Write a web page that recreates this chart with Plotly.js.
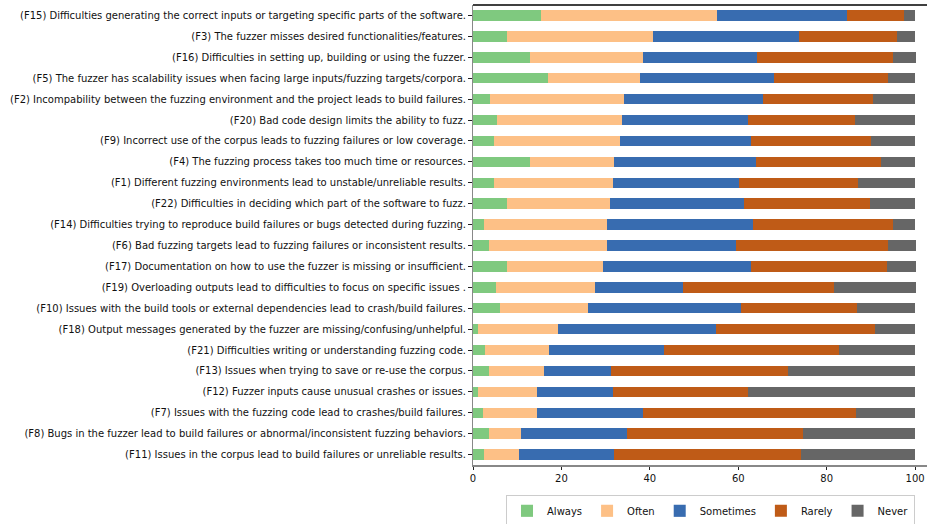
<!DOCTYPE html>
<html>
<head>
<meta charset="utf-8">
<script src="https://cdn.plot.ly/plotly-3.0.1.min.js"></script>
<style>
html,body{margin:0;padding:0;background:#fff;}
#chart{width:927px;height:524px;}
</style>
</head>
<body>
<div id="chart"></div>
<script>
const categories = [
  "(F15) Difficulties generating the correct inputs or targeting specific parts of the software.",
  "(F3) The fuzzer misses desired functionalities/features.",
  "(F16) Difficulties in setting up, building or using the fuzzer.",
  "(F5) The fuzzer has scalability issues when facing large inputs/fuzzing targets/corpora.",
  "(F2) Incompability between the fuzzing environment and the project leads to build failures.",
  "(F20) Bad code design limits the ability to fuzz.",
  "(F9) Incorrect use of the corpus leads to fuzzing failures or low coverage.",
  "(F4) The fuzzing process takes too much time or resources.",
  "(F1) Different fuzzing environments lead to unstable/unreliable results.",
  "(F22) Difficulties in deciding which part of the software to fuzz.",
  "(F14) Difficulties trying to reproduce build failures or bugs detected during fuzzing.",
  "(F6) Bad fuzzing targets lead to fuzzing failures or inconsistent results.",
  "(F17) Documentation on how to use the fuzzer is missing or insufficient.",
  "(F19) Overloading outputs lead to difficulties to focus on specific issues .",
  "(F10) Issues with the build tools or external dependencies lead to crash/build failures.",
  "(F18) Output messages generated by the fuzzer are missing/confusing/unhelpful.",
  "(F21) Difficulties writing or understanding fuzzing code.",
  "(F13) Issues when trying to save or re-use the corpus.",
  "(F12) Fuzzer inputs cause unusual crashes or issues.",
  "(F7) Issues with the fuzzing code lead to crashes/build failures.",
  "(F8) Bugs in the fuzzer lead to build failures or abnormal/inconsistent fuzzing behaviors.",
  "(F11) Issues in the corpus lead to build failures or unreliable results."
];
const seriesNames = ["Always", "Often", "Sometimes", "Rarely", "Never"];
const always    = [15.4, 7.8, 12.8, 17.0, 3.9, 5.5, 4.8, 12.8, 4.8, 7.8, 2.6, 3.7, 7.8, 5.3, 6.0, 1.2, 2.8, 3.7, 1.2, 2.3, 3.7, 2.6];
const often     = [39.7, 33.0, 25.6, 20.8, 30.3, 28.3, 28.5, 19.2, 26.9, 23.1, 27.8, 26.7, 21.7, 22.4, 20.1, 18.1, 14.3, 12.4, 13.3, 12.2, 7.2, 7.7];
const sometimes = [29.4, 33.0, 25.8, 30.2, 31.5, 28.3, 29.6, 32.1, 28.5, 30.5, 33.0, 29.2, 33.3, 19.7, 34.6, 35.7, 26.2, 15.2, 17.2, 24.0, 24.0, 21.7];
const rarely    = [12.9, 22.2, 30.8, 25.9, 24.7, 24.4, 27.2, 28.1, 26.9, 28.3, 31.7, 34.2, 30.8, 34.2, 26.2, 36.0, 39.6, 40.0, 30.5, 48.2, 39.8, 42.3];
const never     = [2.6, 4.0, 5.1, 6.0, 9.6, 13.5, 9.9, 7.8, 12.8, 10.3, 4.9, 6.3, 6.5, 18.5, 13.1, 9.0, 17.1, 28.7, 37.7, 13.3, 25.3, 25.7];
const xTicks = [0, 20, 40, 60, 80, 100];

const colors = ["#7fc97f", "#fdc086", "#386cb0", "#bf5b17", "#666666"];
const values = [always, often, sometimes, rarely, never];

const traces = values.map((v, i) => ({
  type: "bar",
  orientation: "h",
  name: seriesNames[i],
  x: v,
  y: categories,
  width: 0.5,
  marker: {color: colors[i], line: {width: 0}},
  hoverinfo: "x+name"
}));

const layout = {
  width: 927,
  height: 524,
  barmode: "stack",
  paper_bgcolor: "#fff",
  plot_bgcolor: "#fff",
  font: {family: "DejaVu Sans, sans-serif", size: 10, color: "#111"},
  margin: {l: 473, r: 0, t: 5, b: 59, pad: 0, autoexpand: false},
  showlegend: true,
  legend: {
    orientation: "h",
    x: 0.9736, xanchor: "right",
    y: -0.066, yanchor: "top",
    bordercolor: "#cccccc", borderwidth: 1,
    font: {size: 10, color: "#111"},
    traceorder: "normal",
    itemwidth: 30
  },
  xaxis: {
    range: [0, 102.7],
    tickvals: xTicks,
    ticktext: xTicks.map(String),
    ticks: "outside", ticklen: 3.5, tickwidth: 1, tickcolor: "#222",
    showline: true, linecolor: "#888888", linewidth: 1.5,
    showgrid: false, zeroline: false,
    tickfont: {size: 10, color: "#111"}
  },
  yaxis: {
    type: "category",
    range: [21.5, -0.5],
    ticks: "outside", ticklen: 3.5, tickwidth: 1, tickcolor: "#222",
    showline: true, linecolor: "#888888", linewidth: 1.5,
    showgrid: false, zeroline: false,
    tickfont: {size: 10, color: "#111"},
    automargin: false
  },
  shapes: [{
    type: "line", xref: "paper", yref: "paper",
    x0: 0, x1: 1, y0: 1, y1: 1,
    line: {color: "#000", width: 1.5}
  }]
};

Plotly.newPlot("chart", traces, layout, {displayModeBar: false, staticPlot: true});
</script>
</body>
</html>
